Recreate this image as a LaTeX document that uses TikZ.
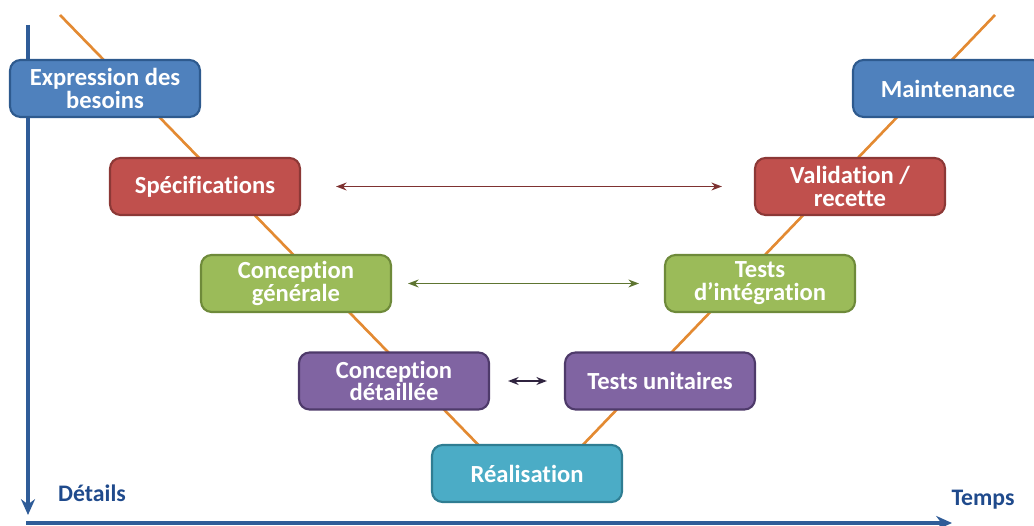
\documentclass[tikz,border=0pt]{standalone}
\usepackage{fontspec}
\setmainfont{Carlito}[Ligatures=NoCommon]
\usetikzlibrary{arrows.meta}

\definecolor{bluefill}{HTML}{4F81BD}
\definecolor{blueline}{HTML}{2E5A8E}
\definecolor{redfill}{HTML}{C0504D}
\definecolor{redline}{HTML}{8C3836}
\definecolor{greenfill}{HTML}{9BBB59}
\definecolor{greenline}{HTML}{6E8A3A}
\definecolor{purplefill}{HTML}{8064A2}
\definecolor{purpleline}{HTML}{4E3A6A}
\definecolor{tealfill}{HTML}{4BACC6}
\definecolor{tealline}{HTML}{2F7D92}
\definecolor{vline}{HTML}{E38A32}
\definecolor{axisblue}{HTML}{2F5C98}
\definecolor{labelblue}{HTML}{1F4A8C}

\begin{document}
\begin{tikzpicture}[x=0.02cm, y=-0.02cm,
  phase/.style={draw, line width=1.2pt, rounded corners=6pt,
    minimum width=3.8cm, minimum height=1.14cm, inner sep=2pt,
    align=center, text=white,
    font=\fontsize{14}{13}\selectfont\bfseries},
  blueph/.style={phase, fill=bluefill, draw=blueline},
  redph/.style={phase, fill=redfill, draw=redline},
  greenph/.style={phase, fill=greenfill, draw=greenline},
  purpleph/.style={phase, fill=purplefill, draw=purpleline},
  tealph/.style={phase, fill=tealfill, draw=tealline},
  axislabel/.style={text=labelblue, font=\fontsize{13.5}{13}\selectfont\bfseries},
  link/.style={line width=1pt, {Stealth[length=6pt]}-{Stealth[length=6pt]}}]
\useasboundingbox (0,0) rectangle (1034,526);

% Axis
\coordinate (dtop) at (28,25);
\coordinate (dend) at (28,515);
\coordinate (tstart) at (26,523);
\coordinate (tend) at (952,523);
\draw[axisblue, line width=1.8pt, -{Stealth[length=9pt,width=8pt]}] (dtop) -- (dend);
\draw[axisblue, line width=1.8pt, -{Stealth[length=9pt,width=8pt]}] (tstart) -- (tend);
\node[axislabel] (details) at (92,493) {Détails};
\node[axislabel] (temps) at (983,500) {Temps};

% the V
\coordinate (vtl) at (60,15);
\coordinate (vbot) at (531,499);
\coordinate (vtr) at (995,15);
\draw[vline, line width=1.5pt] (vtl) -- (vbot) -- (vtr);

% left branch
\node[blueph] (besoins) at (105,88.5) {Expression des\\besoins};
\node[redph] (specs) at (205,186.5) {Spécifications};
\node[greenph] (cgen) at (296,283.5) {Conception\\générale};
\node[purpleph] (cdet) at (394,381) {Conception\\détaillée};

% bottom
\node[tealph] (real) at (527,473.5) {Réalisation};

% right branch
\node[purpleph] (tunit) at (660,381) {Tests unitaires};
\node[greenph] (tinteg) at (760,283.5) {Tests\\d’intégration};
\node[redph] (valid) at (850,186.5) {Validation /\\recette};
\node[blueph] (maint) at (948,88.5) {Maintenance};

% links
\draw[link, redline!90!black, shorten <=0.7cm, shorten >=0.64cm] (specs.east) -- (valid.west);
\draw[link, greenline!85!black, shorten <=0.32cm, shorten >=0.5cm] (cgen.east) -- (tinteg.west);
\draw[link, purpleline!60!black, shorten <=0.36cm, shorten >=0.34cm] (cdet.east) -- (tunit.west);

\end{tikzpicture}
\end{document}
